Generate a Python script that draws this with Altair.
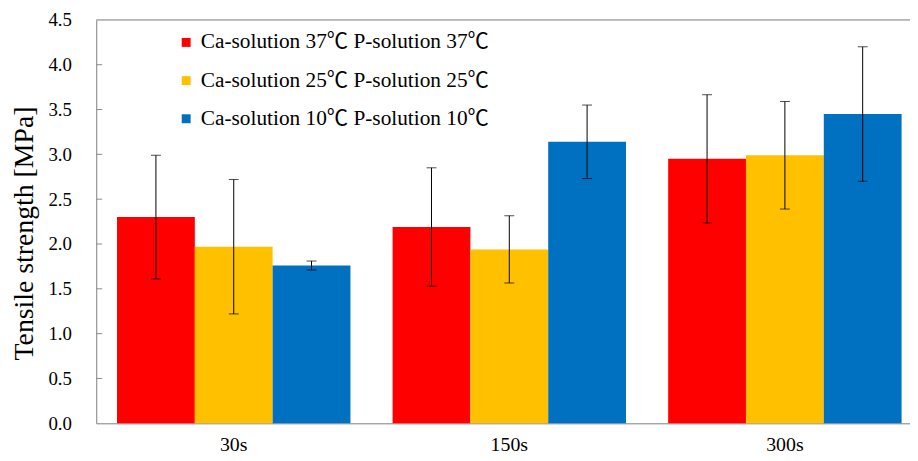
import altair as alt
import pandas as pd

groups = ["30s", "150s", "300s"]
series = [
    "Ca-solution 37\u2103 P-solution 37\u2103",
    "Ca-solution 25\u2103 P-solution 25\u2103",
    "Ca-solution 10\u2103 P-solution 10\u2103",
]
colors = ["#FF0000", "#FFC000", "#0070C0"]

means_37 = [2.30, 2.19, 2.95]
means_25 = [1.97, 1.94, 2.99]
means_10 = [1.76, 3.14, 3.45]
err_37 = [0.69, 0.66, 0.715]
err_25 = [0.75, 0.375, 0.60]
err_10 = [0.05, 0.41, 0.75]

y_ticks = [0.0, 0.5, 1.0, 1.5, 2.0, 2.5, 3.0, 3.5, 4.0, 4.5]
inner_ticks = [0.5, 1.0, 1.5, 2.0, 2.5, 3.0, 3.5, 4.0]

rows = []
for s, means, errs in zip(series, [means_37, means_25, means_10], [err_37, err_25, err_10]):
    for g, m, e in zip(groups, means, errs):
        rows.append({"group": g, "series": s, "value": m, "lo": m - e, "hi": m + e})
df = pd.DataFrame(rows)

FONT = "'Liberation Serif', 'Noto Sans CJK JP', serif"
GRAY = "#8c8c8c"

x_enc = alt.X(
    "group:N",
    sort=groups,
    scale=alt.Scale(paddingInner=0.153, paddingOuter=0.053, align=0.712),
    axis=alt.Axis(
        title=None, labelAngle=0, ticks=False, domainColor=GRAY,
        labelFont=FONT, labelFontSize=20, labelColor="black", labelPadding=11,
    ),
)
xoff = alt.XOffset("series:N", sort=series, scale=alt.Scale(paddingInner=0, paddingOuter=0))
y_scale = alt.Scale(domain=[0, 4.5], nice=False, zero=True)

bars = alt.Chart(df).mark_bar().encode(
    x=x_enc,
    xOffset=xoff,
    y=alt.Y(
        "value:Q",
        scale=y_scale,
        axis=alt.Axis(
            title="Tensile strength [MPa]", values=y_ticks, format=".1f",
            grid=False, ticks=False, domainColor=GRAY,
            labelFont=FONT, labelFontSize=19, labelColor="black", labelPadding=25,
            titleFont=FONT, titleFontSize=28, titleFontWeight="normal", titleColor="black",
            titleX=-58, titleY=215, titleAlign="center", titleBaseline="bottom", titleAngle=270,
        ),
    ),
    color=alt.Color(
        "series:N",
        sort=series,
        scale=alt.Scale(domain=series, range=colors),
        legend=alt.Legend(
            title=None, orient="none", legendX=80, legendY=12,
            symbolType="square", symbolSize=81, symbolStrokeWidth=0,
            labelFont=FONT, labelFontSize=21.5, labelColor="black",
            labelOffset=4, rowPadding=15.5, padding=0, labelLimit=500,
        ),
    ),
)

err_lines = alt.Chart(df).mark_rule(color="black", strokeWidth=1).encode(
    x=alt.X("group:N", sort=groups),
    xOffset=xoff,
    y=alt.Y("lo:Q"),
    y2="hi:Q",
)
cap_lo = alt.Chart(df).mark_tick(color="black", size=10, thickness=1).encode(
    x=alt.X("group:N", sort=groups),
    xOffset=xoff,
    y=alt.Y("lo:Q"),
)
cap_hi = alt.Chart(df).mark_tick(color="black", size=10, thickness=1).encode(
    x=alt.X("group:N", sort=groups),
    xOffset=xoff,
    y=alt.Y("hi:Q"),
)

tick_df = pd.DataFrame({"v": inner_ticks})
inner = alt.Chart(tick_df).mark_rule(color=GRAY, strokeWidth=1).encode(
    y=alt.Y("v:Q"),
    x=alt.value(0),
    x2=alt.value(6),
)
top_df = pd.DataFrame({"v": [4.5]})
top_line = alt.Chart(top_df).mark_rule(color=GRAY, strokeWidth=1).encode(
    y=alt.Y("v:Q"),
)

chart = alt.layer(bars, err_lines, cap_lo, cap_hi, inner, top_line).properties(
    width=821,
    height=407,
    autosize=alt.AutoSizeParams(type="none"),
    padding={"left": 89, "top": 10, "right": 0, "bottom": 30},
).configure_view(stroke=None).configure(background="white")

chart.save("out.html", embed_options={"renderer": "svg", "actions": False})
